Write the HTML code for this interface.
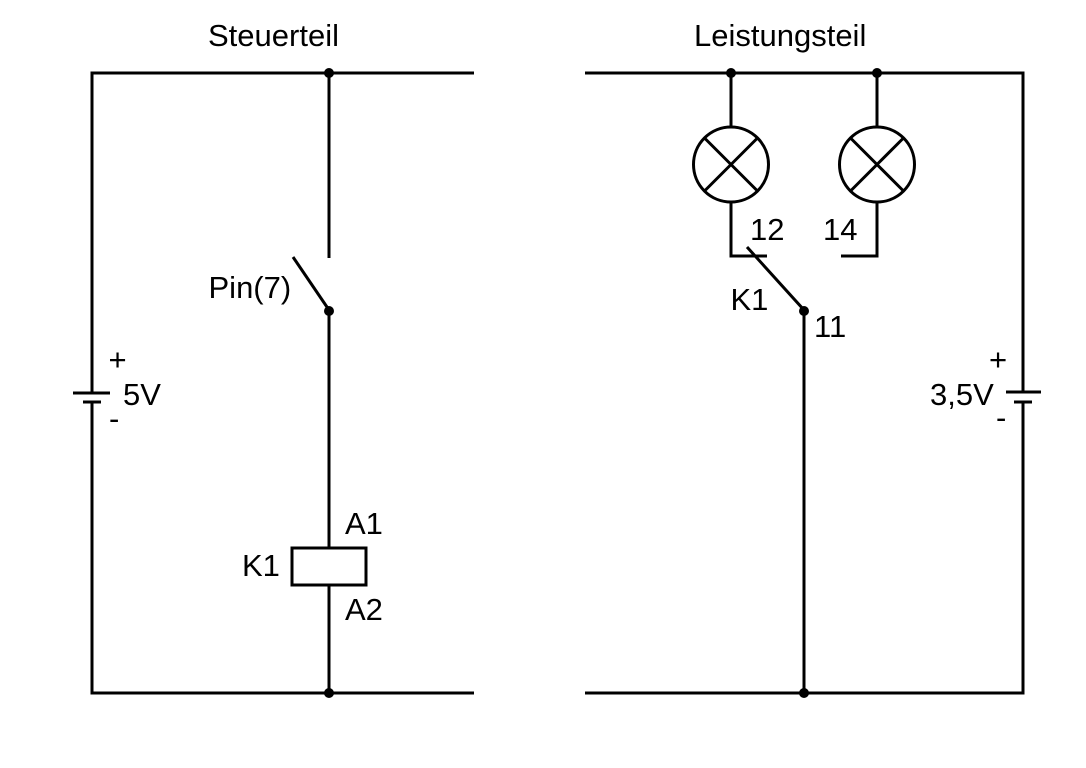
<!DOCTYPE html>
<html>
<head>
<meta charset="utf-8">
<style>
html,body{margin:0;padding:0;background:#fff;}
svg{display:block;}
text{font-family:"Liberation Sans",Arial,sans-serif;font-size:31px;fill:#000;}
</style>
</head>
<body>
<svg width="1086" height="768" viewBox="0 0 1086 768" xmlns="http://www.w3.org/2000/svg">
<g stroke="#000" stroke-width="3" fill="none" stroke-linecap="butt">
  <!-- Left circuit -->
  <polyline points="474,73 92,73 92,393"/>
  <polyline points="92,402 92,693 474,693"/>
  <line x1="73" y1="393" x2="110" y2="393"/>
  <line x1="83" y1="402" x2="101" y2="402"/>
  <line x1="329" y1="73" x2="329" y2="258"/>
  <line x1="293" y1="257" x2="329" y2="310"/>
  <line x1="329" y1="310" x2="329" y2="548"/>
  <rect x="292" y="548" width="74" height="37"/>
  <line x1="329" y1="585" x2="329" y2="693"/>

  <!-- Right circuit -->
  <polyline points="585,73 1023,73 1023,392"/>
  <polyline points="1023,402 1023,693 585,693"/>
  <line x1="1006" y1="392" x2="1041" y2="392"/>
  <line x1="1014" y1="402" x2="1032" y2="402"/>

  <!-- Lamp 1 -->
  <line x1="731" y1="73" x2="731" y2="127"/>
  <circle cx="731" cy="164.5" r="37.5"/>
  <line x1="704.5" y1="138" x2="757.5" y2="191"/>
  <line x1="757.5" y1="138" x2="704.5" y2="191"/>
  <polyline points="731,202 731,256 767,256"/>

  <!-- Lamp 2 -->
  <line x1="877" y1="73" x2="877" y2="127"/>
  <circle cx="877" cy="164.5" r="37.5"/>
  <line x1="850.5" y1="138" x2="903.5" y2="191"/>
  <line x1="903.5" y1="138" x2="850.5" y2="191"/>
  <polyline points="877,202 877,256 841,256"/>

  <!-- Switch K1 -->
  <line x1="747" y1="247" x2="804" y2="310"/>
  <line x1="804" y1="310" x2="804" y2="693"/>
</g>
<g fill="#000">
  <circle cx="329" cy="73" r="5"/>
  <circle cx="329" cy="311" r="5"/>
  <circle cx="329" cy="693" r="5"/>
  <circle cx="731" cy="73" r="5"/>
  <circle cx="877" cy="73" r="5"/>
  <circle cx="804" cy="311" r="5"/>
  <circle cx="804" cy="693" r="5"/>
</g>
<text x="208" y="46">Steuerteil</text>
<text x="694" y="46">Leistungsteil</text>
<text x="208.5" y="298">Pin(7)</text>
<text x="117.5" y="370" text-anchor="middle">+</text>
<text x="123" y="405">5V</text>
<text x="109" y="429">-</text>
<text x="345" y="534">A1</text>
<text x="242" y="576">K1</text>
<text x="345" y="620">A2</text>
<text x="750" y="240">12</text>
<text x="823" y="240">14</text>
<text x="730.5" y="310">K1</text>
<text x="814" y="337">11</text>
<text x="998" y="370" text-anchor="middle">+</text>
<text x="930" y="405">3,5V</text>
<text x="996" y="428">-</text>
</svg>
</body>
</html>
